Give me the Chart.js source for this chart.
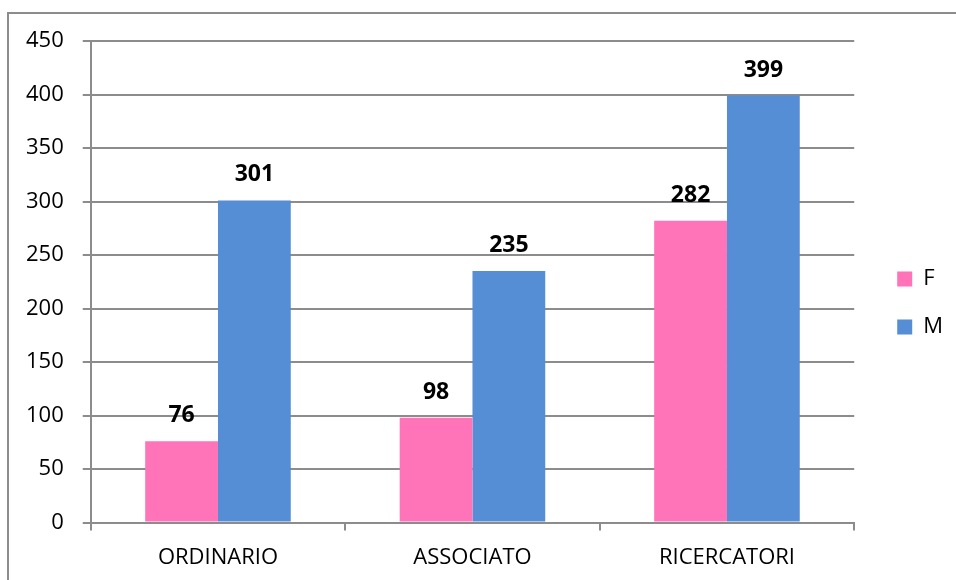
<!DOCTYPE html>
<html>
<head>
<meta charset="utf-8">
<script src="https://cdn.jsdelivr.net/npm/chart.js@4"></script>
<style>
  html, body { margin: 0; padding: 0; background: #fff; overflow: hidden; }
  #frame { position: absolute; left: 7px; top: 12px; width: 960px; height: 580px;
           border-left: 2px solid #8c8c8c; border-top: 2px solid #8c8c8c; }
  #wrap { position: absolute; left: 0; top: 0; width: 956px; height: 580px; }
</style>
</head>
<body>
<div id="frame"></div>
<div id="wrap"><canvas id="myChart" width="956" height="580"></canvas></div>
<script>
// Data
const categories = ['ORDINARIO', 'ASSOCIATO', 'RICERCATORI'];
const valuesF = [76, 98, 282];
const valuesM = [301, 235, 399];
const yTicks = [0, 50, 100, 150, 200, 250, 300, 350, 400, 450];

const FONT = "'Open Sans', 'DejaVu Sans', sans-serif";

// draws the bold value above every bar
const valueLabels = {
    id: 'valueLabels',
    afterDatasetsDraw(chart) {
        const ctx = chart.ctx;
        ctx.save();
        ctx.font = 'bold 23px ' + FONT;
        ctx.fillStyle = '#000';
        ctx.textAlign = 'center';
        ctx.textBaseline = 'alphabetic';
        chart.data.datasets.forEach((ds, i) => {
            chart.getDatasetMeta(i).data.forEach((bar, j) => {
                ctx.fillText(ds.data[j], bar.x, bar.y - 19);
            });
        });
        ctx.restore();
    }
};

// nudge the legend a bit, like the original
const legendNudge = {
    id: 'legendNudge',
    afterLayout(chart) {
        const lg = chart.legend;
        lg.left += 17; lg.right += 17;
        lg.top -= 10; lg.bottom -= 10;
        if (lg.adjustHitBoxes) lg.adjustHitBoxes();
    }
};

const ctx = document.getElementById('myChart').getContext('2d');
const myChart = new Chart(ctx, {
    type: 'bar',
    data: {
        labels: categories,
        datasets: [{
            label: 'F',
            data: valuesF,
            backgroundColor: '#ff73b9',
            borderWidth: 0
        }, {
            label: 'M',
            data: valuesM,
            backgroundColor: '#558ed5',
            borderWidth: 0
        }]
    },
    options: {
        responsive: false,
        animation: false,
        layout: {
            padding: { left: 7, top: 41, right: 20, bottom: -5 }
        },
        datasets: {
            bar: { barPercentage: 1, categoryPercentage: 0.572 }
        },
        plugins: {
            legend: {
                position: 'right',
                labels: {
                    boxWidth: 15,
                    boxHeight: 15,
                    padding: 26,
                    color: '#000',
                    font: { family: FONT, size: 22 }
                }
            },
            tooltip: { enabled: false }
        },
        scales: {
            x: {
                grid: {
                    drawOnChartArea: false,
                    drawTicks: true,
                    tickLength: 8,
                    color: '#8c8c8c',
                    lineWidth: 2
                },
                border: { color: '#8c8c8c', width: 2 },
                ticks: {
                    color: '#000',
                    padding: 14,
                    font: { family: FONT, size: 22 }
                }
            },
            y: {
                min: 0,
                max: 450,
                afterBuildTicks(axis) {
                    axis.ticks = yTicks.map(v => ({ value: v }));
                },
                grid: {
                    color: '#8c8c8c',
                    lineWidth: 2,
                    tickLength: 8
                },
                border: { color: '#8c8c8c', width: 2 },
                ticks: {
                    color: '#000',
                    padding: 19,
                    font: { family: FONT, size: 22 }
                }
            }
        }
    },
    plugins: [valueLabels, legendNudge]
});
</script>
</body>
</html>
